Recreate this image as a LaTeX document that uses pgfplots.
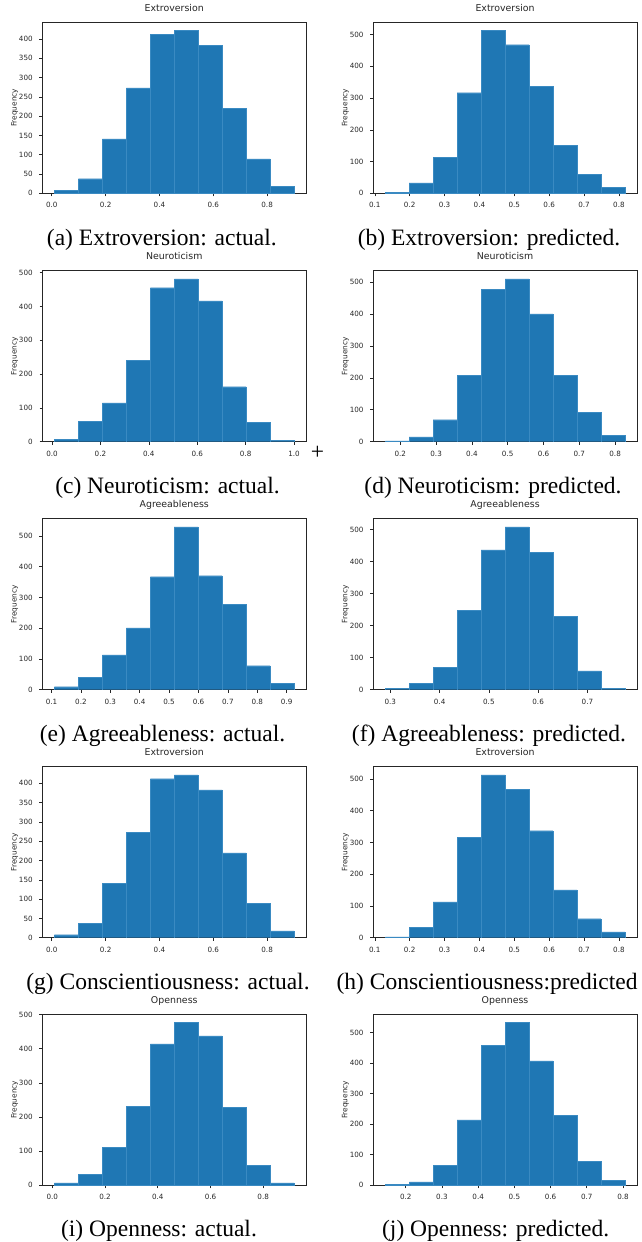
\documentclass[border=0pt]{standalone}
\usepackage{fontspec}
\setmainfont{DejaVu Sans}
\newfontfamily\capfont{Liberation Serif}
\usepackage{pgfplots}
\pgfplotsset{compat=1.18}
\definecolor{mplblue}{HTML}{1F77B4}
\definecolor{mpledge}{HTML}{3A8AC2}
\definecolor{mpltext}{HTML}{262626}

\pgfplotsset{
 mpl/.style={
  scale only axis, width=263.5pt, height=171pt, anchor=north west,
  axis line style={mpltext, line width=0.6pt},
  tick align=outside, tick pos=left, major tick length=3pt,
  every tick/.style={mpltext, line width=0.6pt},
  ymin=0, scaled ticks=false,
  title style={font=\fontsize{9.4}{10}\selectfont, color=mpltext, anchor=base, at={(0.5,1)}, yshift=5pt, inner sep=0pt},
  tick label style={font=\fontsize{7.2}{8}\selectfont, color=mpltext, /pgf/number format/assume math mode=true},
  xticklabel style={anchor=base, inner sep=0pt, /pgf/number format/.cd, fixed, fixed zerofill, precision=1},
  yticklabel style={anchor=east, inner sep=0pt},
  xticklabel shift=11.5pt,
  yticklabel shift=6.6pt,
  ylabel={Frequency},
  ylabel style={font=\fontsize{7.4}{8}\selectfont, color=mpltext, at={(axis description cs:-0.1055,0.5)}, anchor=center},
 },
 hist/.style={ybar interval, fill=mplblue, draw=mpledge, line width=0.25pt},
}
\newcommand{\subcap}[3]{\node[anchor=base, font=\capfont\fontsize{23.5}{26}\selectfont] at (#1pt,-#2pt) {#3};}

\begin{document}
\begin{tikzpicture}
\useasboundingbox (0,0) rectangle (642pt,-1242pt);

% (a)
\begin{axis}[mpl, at={(42.5pt,-22.3pt)}, title={Extroversion},
  xmin=-0.0345, xmax=0.9445, ymax=443.1, xtick={0,0.2,...,0.8}, ytick={0,50,...,400}]
\addplot[hist] coordinates {(0.010,8) (0.099,38) (0.188,141) (0.277,273) (0.366,412) (0.455,422) (0.544,383) (0.633,220) (0.722,89) (0.811,18) (0.900,18)};
\end{axis}
% (b)
\begin{axis}[mpl, at={(373.3pt,-22.3pt)}, title={Extroversion},
  xmin=0.0957, xmax=0.8513, ymax=538.7, xtick={0.1,0.2,...,0.8}, ytick={0,100,...,500}]
\addplot[hist] coordinates {(0.1300,3) (0.1987,33) (0.2674,113) (0.3361,317) (0.4048,513) (0.4735,468) (0.5422,337) (0.6109,151) (0.6796,60) (0.7483,18) (0.8170,18)};
\end{axis}
% (c)
\begin{axis}[mpl, at={(42.5pt,-270.7pt)}, title={Neuroticism},
  xmin=-0.0395, xmax=1.0495, ymax=506.1, xtick={0,0.2,...,1.0}, ytick={0,100,...,500}]
\addplot[hist] coordinates {(0.010,7) (0.109,60) (0.208,115) (0.307,240) (0.406,456) (0.505,482) (0.604,417) (0.703,163) (0.802,58) (0.901,4) (1.000,4)};
\end{axis}
% (d)
\begin{axis}[mpl, at={(373.3pt,-270.7pt)}, title={Neuroticism},
  xmin=0.1246, xmax=0.8605, ymax=535.5, xtick={0.2,0.3,...,0.8}, ytick={0,100,...,500}]
\addplot[hist] coordinates {(0.1580,3) (0.2249,15) (0.2918,69) (0.3587,208) (0.4256,477) (0.4925,510) (0.5594,400) (0.6263,208) (0.6932,93) (0.7601,20) (0.8270,20)};
\end{axis}
% (e)
\begin{axis}[mpl, at={(42.5pt,-518.7pt)}, title={Agreeableness},
  xmin=0.0693, xmax=0.9658, ymax=556.5, xtick={0.1,0.2,...,0.9}, ytick={0,100,...,500}]
\addplot[hist] coordinates {(0.1100,10) (0.1915,41) (0.2730,113) (0.3545,201) (0.4360,368) (0.5175,530) (0.5990,371) (0.6805,277) (0.7620,78) (0.8435,20) (0.9250,20)};
\end{axis}
% (f)
\begin{axis}[mpl, at={(373.3pt,-518.7pt)}, title={Agreeableness},
  xmin=0.2654, xmax=0.8003, ymax=533.4, xtick={0.3,0.4,...,0.7}, ytick={0,100,...,500}]
\addplot[hist] coordinates {(0.2897,4) (0.3383,20) (0.3870,69) (0.4356,248) (0.4843,436) (0.5329,508) (0.5815,429) (0.6302,228) (0.6788,59) (0.7275,4) (0.7760,4)};
\end{axis}
% (g)
\begin{axis}[mpl, at={(42.5pt,-766.7pt)}, title={Extroversion},
  xmin=-0.0345, xmax=0.9445, ymax=443.1, xtick={0,0.2,...,0.8}, ytick={0,50,...,400}]
\addplot[hist] coordinates {(0.010,8) (0.099,38) (0.188,141) (0.277,273) (0.366,412) (0.455,422) (0.544,383) (0.633,220) (0.722,89) (0.811,18) (0.900,18)};
\end{axis}
% (h)
\begin{axis}[mpl, at={(373.3pt,-766.7pt)}, title={Extroversion},
  xmin=0.0957, xmax=0.8513, ymax=538.7, xtick={0.1,0.2,...,0.8}, ytick={0,100,...,500}]
\addplot[hist] coordinates {(0.1300,3) (0.1987,33) (0.2674,113) (0.3361,317) (0.4048,513) (0.4735,468) (0.5422,337) (0.6109,151) (0.6796,60) (0.7483,18) (0.8170,18)};
\end{axis}
% (i)
\begin{axis}[mpl, at={(42.5pt,-1014.3pt)}, title={Openness},
  xmin=-0.0373, xmax=0.9624, ymax=500.9, xtick={0,0.2,...,0.8}, ytick={0,100,...,500}]
\addplot[hist] coordinates {(0.0080,7) (0.0989,32) (0.1898,111) (0.2807,231) (0.3716,414) (0.4625,477) (0.5534,438) (0.6443,228) (0.7352,59) (0.8261,7) (0.9170,7)};
\end{axis}
% (j)
\begin{axis}[mpl, at={(373.3pt,-1014.3pt)}, title={Openness},
  xmin=0.1104, xmax=0.8381, ymax=559.7, xtick={0.2,0.3,...,0.8}, ytick={0,100,...,500}]
\addplot[hist] coordinates {(0.1435,3) (0.2097,11) (0.2758,66) (0.3420,214) (0.4081,458) (0.4743,533) (0.5404,407) (0.6066,229) (0.6727,78) (0.7389,17) (0.8050,17)};
\end{axis}

\subcap{161.8}{245}{(a) Extroversion: actual.}
\subcap{489}{245}{(b) Extroversion: predicted.}
\subcap{167.5}{493.4}{(c) Neuroticism: actual.}
\subcap{493}{493.4}{(d) Neuroticism: predicted.}
\subcap{162.5}{741.4}{(e) Agreeableness: actual.}
\subcap{489}{741.4}{(f) Agreeableness: predicted.}
\subcap{168}{989.4}{(g) Conscientiousness: actual.}
\node[anchor=base east, font=\capfont\fontsize{23.5}{26}\selectfont] at (641pt,-989.4pt) {(h) Conscientiousness:predicted};
\subcap{159}{1236}{(i) Openness: actual.}
\subcap{495.7}{1236}{(j) Openness: predicted.}
\node[font=\capfont\fontsize{23.5}{26}\selectfont] at (317.5pt,-453pt) {+};
\end{tikzpicture}
\end{document}
